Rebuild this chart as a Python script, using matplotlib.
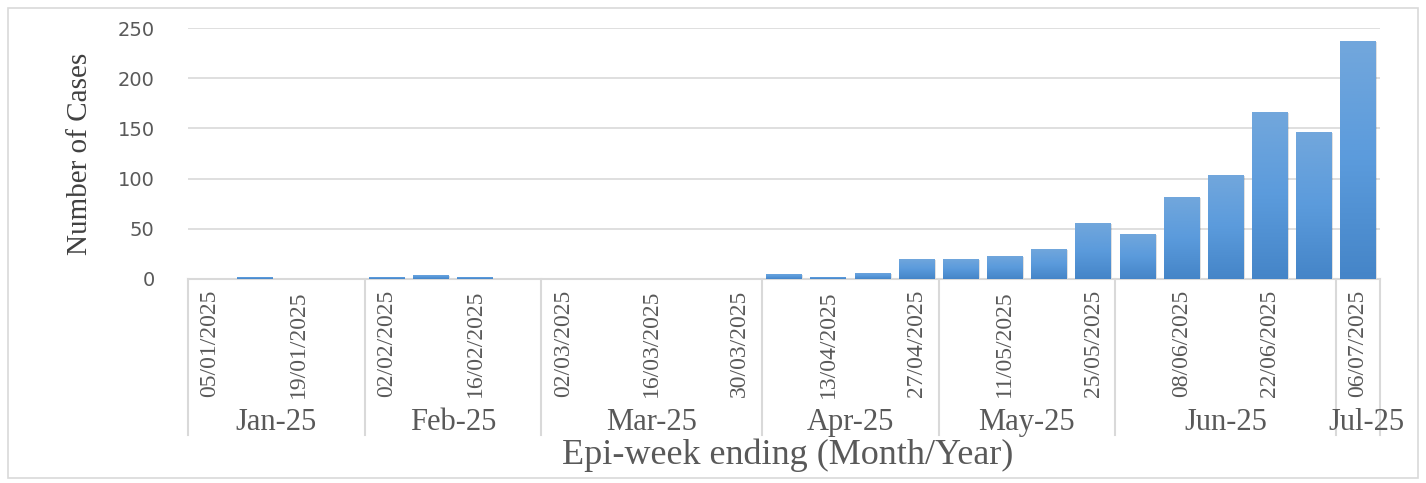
import numpy as np
import matplotlib
matplotlib.use("Agg")
import matplotlib.pyplot as plt
import matplotlib.transforms as mtransforms
from matplotlib.colors import LinearSegmentedColormap
from matplotlib.patches import Rectangle

# === Datos (semanas epidemiológicas, fecha de fin) ===
weeks = ["05/01/2025", "12/01/2025", "19/01/2025", "26/01/2025",
         "02/02/2025", "09/02/2025", "16/02/2025", "23/02/2025",
         "02/03/2025", "09/03/2025", "16/03/2025", "23/03/2025", "30/03/2025",
         "06/04/2025", "13/04/2025", "20/04/2025", "27/04/2025",
         "04/05/2025", "11/05/2025", "18/05/2025", "25/05/2025",
         "01/06/2025", "08/06/2025", "15/06/2025", "22/06/2025", "29/06/2025",
         "06/07/2025"]
cases = [0, 2, 0, 0,
         2, 4, 2, 0,
         0, 0, 0, 0, 0,
         5, 2, 6, 20,
         20, 23, 30, 56,
         45, 82, 104, 166, 146,
         237]
months = ["Jan-25", "Feb-25", "Mar-25", "Apr-25", "May-25", "Jun-25", "Jul-25"]
weeks_per_month = [4, 4, 5, 4, 4, 5, 1]

gray_txt = "#595959"
grid_col = "#D9D9D9"
serif = "Liberation Serif"

plt.rcParams["font.family"] = [serif, "DejaVu Serif"]

W, H = 1426, 483
fig = plt.figure(figsize=(W / 100, H / 100), dpi=100)
ax = fig.add_axes([188 / W, (H - 279) / H, (1380 - 188) / W, (279 - 28) / H])

x = np.arange(len(weeks))
bars = ax.bar(x, cases, width=0.8, color="#5B9BD5", zorder=3)

# degradado tipo Excel dentro de cada barra
cmap = LinearSegmentedColormap.from_list("exc", ["#4585C8", "#5B9BDC", "#72A7DC"])
grad = np.linspace(0, 1, 100).reshape(-1, 1)
for b in bars:
    h = b.get_height()
    if h <= 0:
        continue
    x0 = b.get_x()
    # sombra
    sh = Rectangle((x0 + 0.04, -1.0), b.get_width(), h, color="#000000",
                   alpha=0.12, lw=0, zorder=2)
    ax.add_patch(sh)
    im = ax.imshow(grad, cmap=cmap, origin="lower", aspect="auto",
                   extent=[x0, x0 + b.get_width(), 0, h], zorder=4)
    im.set_clip_path(b)

ax.set_xlim(-0.5, len(weeks) - 0.5)
ax.set_ylim(0, 250)
ax.set_yticks(range(0, 251, 50))
ax.set_yticklabels([str(v) for v in range(0, 251, 50)], family="DejaVu Sans")
ax.yaxis.grid(True, color=grid_col, lw=1.2, zorder=0)
ax.tick_params(axis="y", length=0, pad=24, labelsize=14, labelcolor=gray_txt)

ax.set_xticks(x[::2])
ax.set_xticklabels(weeks[::2], rotation=90)
ax.tick_params(axis="x", length=0, pad=8, labelsize=17, labelcolor=gray_txt)

for s in ["top", "right", "left"]:
    ax.spines[s].set_visible(False)
ax.spines["bottom"].set_color(grid_col)
ax.spines["bottom"].set_linewidth(1.5)

# segundo nivel del eje: meses
trans = mtransforms.blended_transform_factory(ax.transData, ax.transAxes)
edges = np.concatenate([[0], np.cumsum(weeks_per_month)]) - 0.5
for e in edges:
    ax.plot([e, e], [0, -0.62], transform=trans, color=grid_col, lw=1.5,
            clip_on=False)
for i, m in enumerate(months):
    c = (edges[i] + edges[i + 1]) / 2
    if m == "Jul-25":
        c += 0.2
    ax.text(c, -0.57, m, transform=trans, ha="center", va="center",
            fontsize=22, color=gray_txt)

ax.set_ylabel("Number of Cases", fontsize=21, color="#404040", labelpad=18)
fig.text(788 / W, (H - 455) / H, "Epi-week ending (Month/Year)",
         fontsize=26, color=gray_txt, ha="center", va="center")

# borde del gráfico
fig.add_artist(Rectangle((8 / W, 5 / H), 1410 / W, 470 / H,
                         transform=fig.transFigure, fill=False,
                         edgecolor=grid_col, lw=1.2))

fig.savefig("out.png", dpi=100)
